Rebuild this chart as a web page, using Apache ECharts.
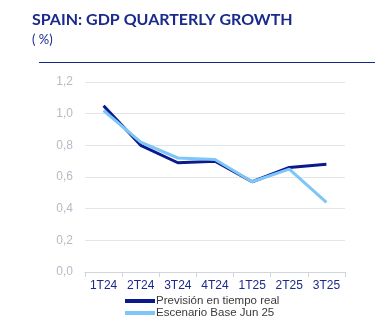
<!DOCTYPE html>
<html><head><meta charset="utf-8">
<script src="https://cdn.jsdelivr.net/npm/echarts@6/dist/echarts.min.js"></script>
<style>html,body{margin:0;padding:0;background:#fff}#c{width:378px;height:326px}</style>
</head><body><div id="c"></div>
<script>
const categories = ['1T24','2T24','3T24','4T24','1T25','2T25','3T25'];
const prevision = [1.05, 0.80, 0.69, 0.70, 0.57, 0.66, 0.68];
const escenario = [1.02, 0.82, 0.72, 0.71, 0.57, 0.65, 0.44];
const seriesNames = ['Previsión en tiempo real', 'Escenario Base Jun 25'];

const legendCommon = {
  orient: 'vertical', left: 125,
  itemWidth: 30, itemHeight: 4,
  icon: 'rect', padding: 0,
  textStyle: {fontFamily: 'Liberation Sans', fontSize: 11.5, color: '#3a3a3a', padding: [0,0,0,-4]}
};

const chart = echarts.init(document.getElementById('c'));
chart.setOption({
  animation: false,
  title: {
    text: 'SPAIN: GDP QUARTERLY GROWTH',
    subtext: '( %)',
    left: 32, top: 12,
    padding: 0,
    itemGap: 5,
    textStyle: {fontFamily: 'Lato', fontWeight: 'bold', fontSize: 16, color: '#1a2a8c'},
    subtextStyle: {fontFamily: 'Lato', fontSize: 13, color: '#1a2a8c'}
  },
  graphic: [{
    type: 'line', shape: {x1: 39, y1: 62.5, x2: 375, y2: 62.5},
    style: {stroke: '#1a2a8c', lineWidth: 1}
  }],
  grid: {left: 85, right: 33, top: 82, bottom: 54},
  legend: [
    Object.assign({}, legendCommon, {top: 295, data: [seriesNames[0]]}),
    Object.assign({}, legendCommon, {top: 307, data: [seriesNames[1]]})
  ],
  xAxis: {
    type: 'category', data: categories, boundaryGap: true,
    axisLine: {lineStyle: {color: '#d0d4dc'}},
    axisTick: {show: true, length: 5, lineStyle: {color: '#d0d4dc'}},
    axisLabel: {fontFamily: 'Liberation Sans', fontSize: 12, color: '#1a2a8c', margin: 8}
  },
  yAxis: {
    type: 'value', min: 0, max: 1.2, interval: 0.2,
    axisLine: {show: false}, axisTick: {show: false},
    splitLine: {lineStyle: {color: '#e2e5ea'}},
    axisLabel: {fontFamily: 'Liberation Sans', fontSize: 12, color: '#b4bac6', margin: 12,
      formatter: v => v.toFixed(1).replace('.', ',')}
  },
  series: [
    {name: seriesNames[0], type: 'line', data: prevision, symbol: 'none',
     lineStyle: {color: '#0a1a8c', width: 3}, itemStyle: {color: '#0a1a8c'}},
    {name: seriesNames[1], type: 'line', data: escenario, symbol: 'none',
     lineStyle: {color: '#7ec6f7', width: 3}, itemStyle: {color: '#7ec6f7'}}
  ]
});
</script></body></html>
